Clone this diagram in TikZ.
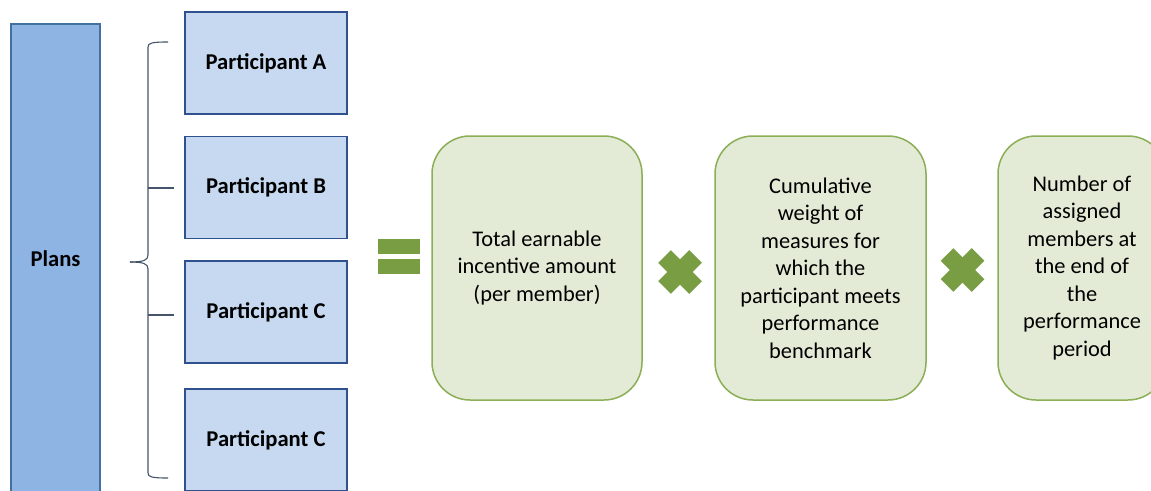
\documentclass[tikz,border=0pt]{standalone}
\usepackage{fontspec}
\setmainfont{Carlito}
\usetikzlibrary{calc}
\definecolor{planfill}{HTML}{8EB4E3}
\definecolor{planline}{HTML}{41719C}
\definecolor{partfill}{HTML}{C6D9F1}
\definecolor{partline}{HTML}{2F528F}
\definecolor{termfill}{HTML}{E3EBD6}
\definecolor{termline}{HTML}{8BAE57}
\definecolor{opgreen}{HTML}{789D42}
\definecolor{bracegray}{HTML}{44546A}
\tikzset{
  partbox/.style={draw=partline, fill=partfill, line width=1.3pt, inner sep=0pt,
    minimum width=162pt, minimum height=102pt,
    font=\bfseries\fontsize{22.6}{26}\selectfont},
  termbox/.style={draw=termline, fill=termfill, line width=1.5pt, inner sep=0pt,
    rounded corners=38pt, minimum height=264pt, align=center,
    font=\fontsize{22.4}{27.5}\selectfont},
  opstroke/.style={opgreen, line width=18pt},
  bracestroke/.style={bracegray, line width=1.1pt},
}
\begin{document}
\begin{tikzpicture}[x=1pt,y=-1pt]
\useasboundingbox (0,0) rectangle (1151,490);
\clip (0,0) rectangle (1151,490);
\fill[white] (0,0) rectangle (1151,490);

% plan column and the four participants
\node[draw=planline, fill=planfill, line width=1.3pt, inner sep=0pt,
  minimum width=89pt, minimum height=480pt] (plans) at (55.5,264) {};
\node[font=\bfseries\fontsize{22.6}{26}\selectfont] (planslabel) at (55.5,259) {Plans};
\node[partbox] (pa) at (266,63) {Participant A};
\node[partbox] (pb) at (266,187.5) {Participant B};
\node[partbox] (pc) at (266,312) {Participant C};
\node[partbox] (pd) at (266,440) {Participant C};

% brace grouping the participants
\coordinate (btop) at (168,42);
\coordinate (bbot) at (168,478);
\coordinate (bmid) at (130,262);
\draw[bracestroke] (btop) .. controls (152,42) and (148,43) .. (148,47)
  -- (148,255) .. controls (148,260) and (144,262) .. (bmid);
\draw[bracestroke] (bbot) .. controls (152,478) and (148,477) .. (148,473)
  -- (148,269) .. controls (148,264) and (144,262) .. (bmid);
\coordinate (tb) at (148,188);
\coordinate (tc) at (148,315);
\draw[bracestroke] (tb) -- ++(26,0);
\draw[bracestroke] (tc) -- ++(26,0);

% formula terms
\node[termbox, minimum width=210pt] (t1) at (537,268)
  {Total earnable\\incentive amount\\(per member)};
\node[termbox, minimum width=211pt] (t2) at (820.5,268)
  {Cumulative\\weight of\\measures for\\which the\\participant meets\\performance\\benchmark};
\node[termbox, minimum width=168pt] (t3) at (1082,268)
  {Number of\\assigned\\members at\\the end of\\the\\performance\\period};

% operators
\fill[opgreen] (378,239) rectangle (420,254);
\fill[opgreen] (378,259) rectangle (420,274);
\coordinate (x1) at (680,272);
\coordinate (x2) at (962.5,270);
\foreach \c in {x1,x2}{
  \draw[opstroke] ($(\c)+(-15.5,-15.5)$) -- ($(\c)+(15.5,15.5)$);
  \draw[opstroke] ($(\c)+(-15.5,15.5)$) -- ($(\c)+(15.5,-15.5)$);
}
\end{tikzpicture}
\end{document}
